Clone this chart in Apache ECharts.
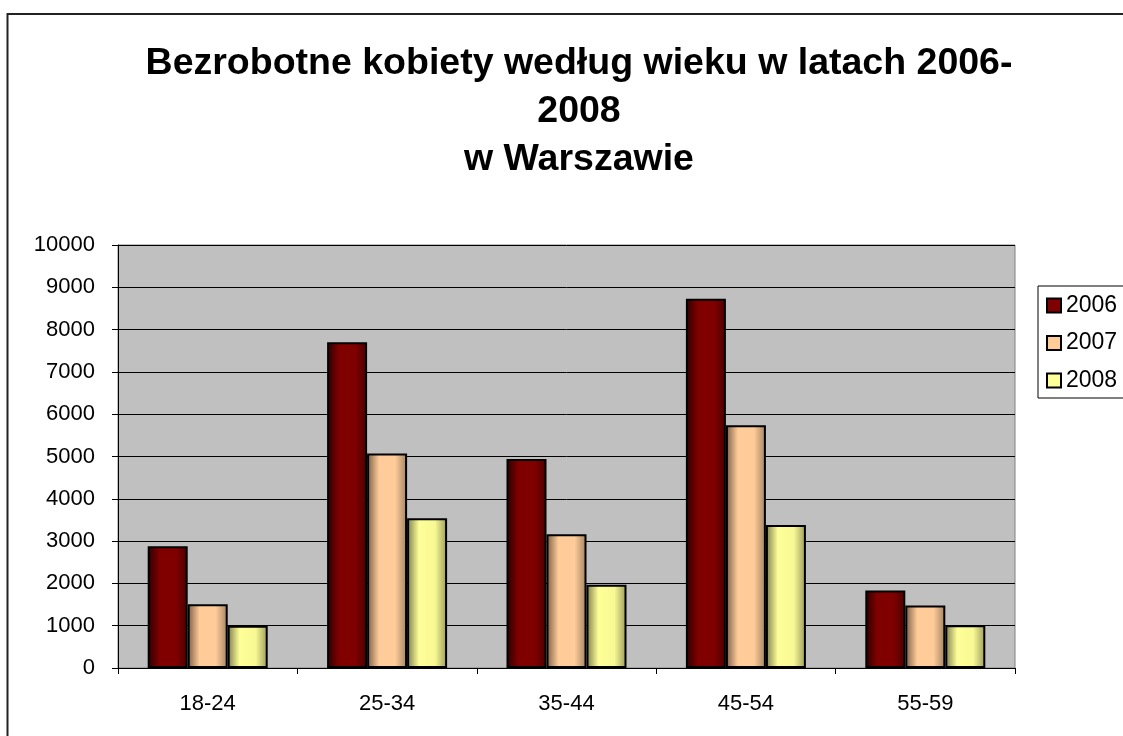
<!DOCTYPE html>
<html>
<head>
<meta charset="utf-8">
<script src="https://cdn.jsdelivr.net/npm/echarts@6/dist/echarts.min.js"></script>
<style>
html,body{margin:0;padding:0;background:#fff;}
#chart{width:1123px;height:736px;}
</style>
</head>
<body>
<div id="chart"></div>
<script>
const categories = ['18-24', '25-34', '35-44', '45-54', '55-59'];
const seriesNames = ['2006', '2007', '2008'];
const values2006 = [2880, 7700, 4940, 8730, 1830];
const values2007 = [1510, 5070, 3160, 5740, 1480];
const values2008 = [1000, 3540, 1970, 3380, 1010];
const yTicks = [0, 1000, 2000, 3000, 4000, 5000, 6000, 7000, 8000, 9000, 10000];
const titleText = 'Bezrobotne kobiety według wieku w latach 2006-\n2008\nw Warszawie';

const FONT = 'Arial, "Liberation Sans", sans-serif';
function grad(c0, c1, c2, c3) {
  return new echarts.graphic.LinearGradient(0, 0, 1, 0, [
    {offset: 0, color: c0},
    {offset: 0.3, color: c1},
    {offset: 0.7, color: c2},
    {offset: 1, color: c3}
  ]);
}
const fills = [
  grad('#2a0000', '#800000', '#800000', '#4a0000'),
  grad('#7a5c44', '#ffcc99', '#ffcc99', '#a08262'),
  grad('#7c7c4c', '#ffff99', '#f8f894', '#9a9a5c')
];
const flat = ['#800000', '#ffcc99', '#ffff99'];
const allValues = [values2006, values2007, values2008];

const chart = echarts.init(document.getElementById('chart'), null, {renderer: 'canvas'});
chart.setOption({
  backgroundColor: '#ffffff',
  animation: false,
  graphic: [{
    type: 'rect',
    shape: {x: 7.5, y: 14, width: 1300, height: 900},
    style: {fill: 'none', stroke: '#222', lineWidth: 2},
    z: 100
  }],
  title: {
    text: titleText,
    left: 574,
    top: 35,
    textAlign: 'center',
    textStyle: {fontFamily: FONT, fontSize: 37.5, fontWeight: 'bold', color: '#000', lineHeight: 48}
  },
  legend: {
    orient: 'vertical',
    left: 1038,
    top: 286,
    padding: [8, 30, 6, 8],
    itemGap: 14.5,
    itemWidth: 14,
    itemHeight: 14,
    icon: 'rect',
    borderColor: '#000',
    borderWidth: 1,
    backgroundColor: '#fff',
    textStyle: {fontFamily: FONT, fontSize: 23, color: '#000', lineHeight: 23},
    data: seriesNames.map((n, i) => ({
      name: n,
      itemStyle: {color: flat[i], borderColor: '#000', borderWidth: 2}
    }))
  },
  grid: {
    left: 118, top: 245, width: 897, height: 423,
    show: true, backgroundColor: '#c0c0c0', borderColor: '#808080', borderWidth: 1
  },
  xAxis: {
    type: 'category',
    data: categories,
    axisLine: {lineStyle: {color: '#000', width: 1}},
    axisTick: {show: true, length: 6, lineStyle: {color: '#000'}},
    axisLabel: {fontFamily: FONT, fontSize: 22, color: '#000', margin: 25},
    splitLine: {show: false}
  },
  yAxis: {
    type: 'value',
    min: yTicks[0],
    max: yTicks[yTicks.length - 1],
    interval: yTicks[1] - yTicks[0],
    axisLine: {show: true, lineStyle: {color: '#000', width: 1}},
    axisTick: {show: true, length: 6, lineStyle: {color: '#000'}},
    axisLabel: {fontFamily: FONT, fontSize: 22, color: '#000', margin: 23, formatter: v => String(v)},
    splitLine: {show: true, lineStyle: {color: '#000', width: 1}}
  },
  series: seriesNames.map((n, i) => ({
    name: n,
    type: 'bar',
    data: allValues[i],
    barWidth: 40,
    barGap: '0%',
    itemStyle: {color: fills[i], borderColor: '#000', borderWidth: 2}
  }))
});
</script>
</body>
</html>
